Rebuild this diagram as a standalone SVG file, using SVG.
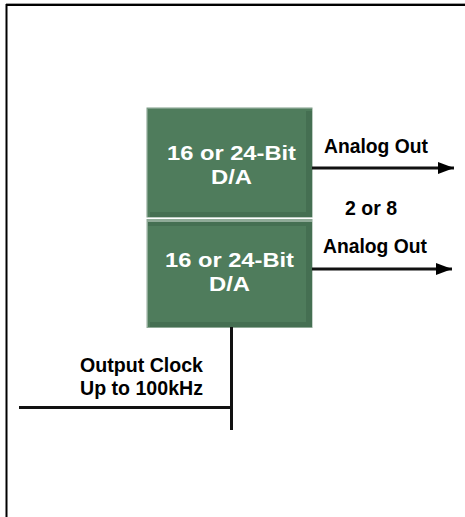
<svg xmlns="http://www.w3.org/2000/svg" width="465" height="517" viewBox="0 0 465 517">
<style>
.lbl{font-family:"Liberation Sans",Arial,sans-serif;font-weight:bold;}
.box-t{fill:#ffffff;font-size:21px;text-anchor:middle;}
.blk{fill:#000000;}
.wire{stroke:#111111;stroke-width:3;fill:none;}
</style>
<defs>
<marker id="ah" markerWidth="16" markerHeight="12" refX="16" refY="6" orient="auto" markerUnits="userSpaceOnUse">
<path d="M0,0 L16,6 L0,12 Z" fill="#000"/>
</marker>
</defs>
<rect x="0" y="0" width="465" height="517" fill="#ffffff"/>
<g id="frame">
<line x1="6" y1="3.5" x2="465" y2="3.5" stroke="#a0a0a0" stroke-width="1"/>
<line x1="6" y1="5" x2="465" y2="5" stroke="#000" stroke-width="2"/>
<line x1="6.5" y1="4" x2="6.5" y2="517" stroke="#000" stroke-width="2"/>
</g>
<g id="da1">
<rect x="146.5" y="107.5" width="166" height="110" fill="#7c9c86"/>
<rect x="148" y="109" width="164" height="108" fill="#4f7c5c"/>
<rect x="306" y="111" width="6" height="106" fill="#456f52"/>
<rect x="150" y="212" width="162" height="5" fill="#456f52"/>
<text class="lbl box-t" x="231.5" y="159.5" textLength="129" lengthAdjust="spacingAndGlyphs">16 or 24-Bit</text>
<text class="lbl box-t" x="231.5" y="184" textLength="41" lengthAdjust="spacingAndGlyphs">D/A</text>
</g>
<g id="da2">
<rect x="146.5" y="219" width="166" height="109" fill="#8faa97"/>
<rect x="148" y="222" width="164" height="105" fill="#4f7c5c"/>
<rect x="148" y="222" width="164" height="4" fill="#456f52"/>
<rect x="306" y="222" width="6" height="105" fill="#456f52"/>
<rect x="150" y="322" width="162" height="5" fill="#456f52"/>
<text class="lbl box-t" x="229.5" y="266.5" textLength="129" lengthAdjust="spacingAndGlyphs">16 or 24-Bit</text>
<text class="lbl box-t" x="229.5" y="291" textLength="41" lengthAdjust="spacingAndGlyphs">D/A</text>
</g>
<g id="connectors">
<line class="wire" x1="312" y1="168" x2="454" y2="168" marker-end="url(#ah)"/>
<line class="wire" x1="312" y1="269" x2="452" y2="269" marker-end="url(#ah)"/>
<line class="wire" x1="231.5" y1="327" x2="231.5" y2="430"/>
<line class="wire" x1="19" y1="407.5" x2="233" y2="407.5"/>
</g>
<g id="labels">
<text class="lbl blk" x="324" y="153" font-size="19.5" textLength="104" lengthAdjust="spacingAndGlyphs">Analog Out</text>
<text class="lbl blk" x="345" y="215" font-size="19.5" textLength="52" lengthAdjust="spacingAndGlyphs">2 or 8</text>
<text class="lbl blk" x="323" y="253" font-size="19.5" textLength="104" lengthAdjust="spacingAndGlyphs">Analog Out</text>
<text class="lbl blk" x="80" y="372" font-size="20" textLength="123" lengthAdjust="spacingAndGlyphs">Output Clock</text>
<text class="lbl blk" x="80" y="395" font-size="20" textLength="123" lengthAdjust="spacingAndGlyphs">Up to 100kHz</text>
</g>
</svg>
